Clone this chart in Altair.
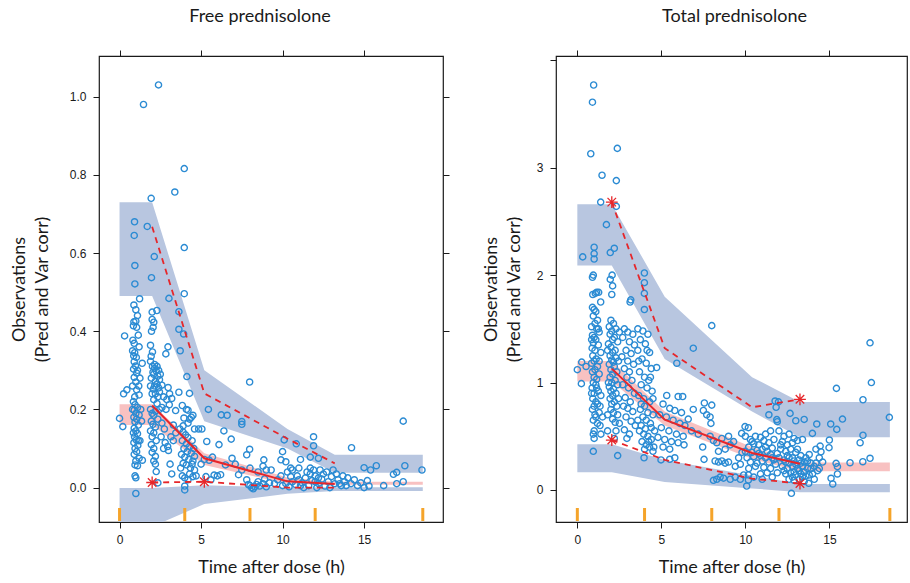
import altair as alt
import pandas as pd

# ---------------- data: Free prednisolone ----------------
free_obs = [
    (2.39,1.03),(1.47,0.98),(3.97,0.816),(3.39,0.756),(1.94,0.74),(0.92,0.68),(1.70,0.668),(0.90,0.645),
    (3.97,0.614),(2.13,0.591),(0.94,0.568),(1.96,0.537),(0.94,0.521),(3.97,0.496),(3.03,0.484),(1.23,0.483),
    (0.88,0.467),(1.0,0.455),(2.0,0.449),(2.29,0.453),(3.64,0.45),(0.88,0.424),(1.0,0.426),(0.85,0.414),
    (1.05,0.41),(2.0,0.43),(2.1,0.423),(1.96,0.40),(2.06,0.41),(3.64,0.405),(3.93,0.393),(0.31,0.388),
    (0.82,0.377),(0.9,0.369),(0.8,0.35),(0.93,0.345),(0.87,0.337),(1.03,0.333),(1.9,0.364),(2.02,0.347),
    (1.94,0.336),(2.97,0.36),(2.84,0.342),(3.72,0.35),(0.9,0.322),(0.98,0.311),(0.86,0.303),(1.05,0.293),
    (1.9,0.323),(2.02,0.31),(2.15,0.305),(2.25,0.298),(2.1,0.29),(2.35,0.285),(1.95,0.28),(2.2,0.272),
    (2.45,0.276),(1.39,0.318),(4.13,0.284),(0.9,0.282),(1.0,0.27),(1.18,0.26),(1.05,0.25),(1.2,0.237),
    (0.93,0.232),(1.9,0.26),(2.06,0.252),(2.2,0.24),(2.35,0.232),(2.1,0.225),(2.45,0.245),(2.6,0.262),
    (2.98,0.256),(3.07,0.24),(2.7,0.232),(2.9,0.225),(3.2,0.228),(0.25,0.24),(0.45,0.25),(3.64,0.244),
    (4.29,0.241),(3.85,0.21),(4.1,0.2),(4.2,0.198),(3.44,0.197),(2.85,0.2),(3.05,0.212),(2.6,0.205),
    (0.0,0.177),(0.2,0.156),(4.5,0.185),(4.3,0.175),(3.95,0.178),(4.2,0.165),(3.9,0.158),
    (0.85,0.22),(0.95,0.212),(1.1,0.205),(0.9,0.198),(1.0,0.19),(1.2,0.186),(0.88,0.18),(1.05,0.175),
    (0.95,0.168),(1.15,0.16),(0.9,0.152),(1.0,0.145),(1.1,0.138),(0.92,0.13),(1.02,0.122),(0.88,0.115),
    (1.12,0.108),(0.95,0.1),(1.05,0.092),(0.9,0.085),(1.2,0.075),(1.0,0.068),(0.95,0.058),(1.1,0.056),
    (0.95,0.03),(1.0,0.025),(1.0,-0.015),(1.3,0.2),(1.35,0.17),(1.25,0.12),(1.4,0.07),
    (1.1,0.44),(1.15,0.39),(1.2,0.36),(1.1,0.3),(1.25,0.28),(0.8,0.26),(0.8,0.2),(0.85,0.14),(1.15,0.12),
    (1.9,0.2),(2.0,0.19),(2.1,0.185),(1.95,0.17),(2.05,0.162),(2.2,0.155),(1.9,0.145),(2.1,0.14),
    (2.0,0.13),(2.25,0.12),(1.95,0.11),(2.1,0.1),(2.0,0.09),(2.2,0.08),(2.1,0.068),(2.2,0.06),
    (2.25,0.041),(2.35,0.012),(2.6,0.165),(2.75,0.15),(2.55,0.13),(2.8,0.115),(2.95,0.105),(2.7,0.1),
    (2.15,0.315),(2.3,0.31),(2.4,0.3),(2.05,0.295),(2.3,0.265),(2.15,0.26),(2.4,0.255),(2.5,0.29),
    (2.0,0.24),(2.3,0.215),(2.45,0.2),(2.2,0.195),(2.35,0.175),
    (3.0,0.095),(3.15,0.13),(3.3,0.16),(3.45,0.14),(3.3,0.12),(3.1,0.06),(3.2,0.035),
    (3.7,0.15),(3.9,0.142),(4.05,0.135),(4.2,0.128),(3.85,0.12),(4.1,0.112),(4.3,0.105),(3.95,0.1),
    (4.15,0.092),(4.4,0.088),(3.8,0.085),(4.0,0.078),(4.25,0.072),(4.5,0.068),(3.9,0.062),(4.1,0.058),
    (4.35,0.05),(4.6,0.045),(3.85,0.03),(4.0,0.025),(4.2,0.02),(4.5,0.028),(4.0,0.004),(4.0,-0.006),
    (4.45,0.12),(4.55,0.1),(4.6,0.08),(4.3,0.035),(3.75,0.05),(4.45,0.06),
    (4.7,0.03),(4.4,0.18),(4.6,0.15),(4.85,0.15),(5.05,0.15),(5.35,0.118),(5.2,0.072),(5.5,0.07),
    (5.7,0.078),(5.0,0.06),(5.3,0.028),(5.8,0.032),(5.6,0.02),(6.0,0.03),(6.2,0.033),
    (6.24,0.186),(6.85,0.124),(5.45,0.2),(6.4,0.145),(6.9,0.075),(6.5,0.058),(6.1,0.11),(6.6,0.185),
    (7.5,0.169),(7.5,0.162),(7.98,0.098),(7.8,0.084),(7.98,0.27),(8.85,0.071),(7.1,0.06),(7.5,0.045),
    (8.0,0.05),(7.3,0.033),(8.5,0.04),(9.0,0.045),(9.3,0.045),(8.8,0.055),
    (8.0,0.005),(8.1,0.0),(8.2,-0.003),(8.3,0.002),(8.4,0.008),(8.6,0.004),(8.8,0.01),(9.0,0.002),
    (9.2,0.012),(8.5,0.015),(8.9,0.022),(9.5,0.01),(9.7,0.02),(9.9,0.03),(7.8,0.02),(7.9,0.008),
    (10.1,0.122),(10.0,0.092),(9.9,0.071),(10.2,0.066),(10.84,0.112),(11.1,0.072),(11.9,0.13),(11.9,0.107),
    (11.7,0.078),(12.2,0.075),(11.7,0.05),(10.5,0.05),(11.0,0.05),(10.6,0.045),
    (10.0,0.005),(10.2,0.01),(10.4,0.002),(10.6,0.015),(10.8,0.008),(11.0,0.02),(11.2,0.012),(11.4,0.025),
    (11.6,0.005),(11.8,0.018),(12.0,0.03),(12.2,0.01),(12.4,0.022),(12.6,0.004),(12.8,0.015),(13.0,0.028),
    (13.2,0.01),(13.4,0.02),(13.6,0.005),(13.8,0.015),(14.0,0.025),(14.2,0.01),(14.4,0.02),(10.5,0.028),
    (10.9,0.03),(11.3,0.0),(11.7,0.035),(12.1,0.0),(12.5,0.035),(12.9,0.0),(13.3,0.035),(13.7,0.03),
    (12.7,0.04),(13.1,0.045),(11.5,0.04),(12.3,0.045),
    (10.3,0.04),(11.9,0.045),(12.2,0.025),(13.5,0.01),(12.0,0.015),(11.1,0.005),(13.9,0.005),
    (14.23,0.102),(15.0,0.051),(15.4,0.045),(15.75,0.056),(15.0,0.0),(15.3,0.004),(16.2,0.005),
    (16.8,0.034),(17.0,0.039),(17.5,0.056),(17.4,0.17),(17.4,0.015),(17.0,0.01),(18.55,0.045),
    (14.8,0.012),(15.2,0.018),(14.6,0.005),
]
free_band_t = [0.0, 2.0, 5.2, 10.3, 13.2, 18.6]
free_upper_lo = [0.49, 0.49, 0.17, 0.10, 0.038, 0.038]
free_upper_hi = [0.73, 0.73, 0.30, 0.15, 0.084, 0.084]
free_lower_lo = [-0.10, -0.10, -0.042, -0.016, -0.009, -0.009]
free_lower_hi = [-0.001, -0.001, 0.006, 0.0, 0.001, 0.001]
free_mid_lo = [0.16, 0.16, 0.058, 0.009, 0.007, 0.007]
free_mid_hi = [0.213, 0.213, 0.088, 0.026, 0.015, 0.015]
free_bin_t = [2.0, 5.2, 10.3, 13.2]
free_p50 = [0.21, 0.075, 0.016, 0.009]
free_p95 = [0.667, 0.241, 0.125, 0.062]
free_p05 = [0.013, 0.015, 0.0, 0.0]
free_stars = [(2.0, 0.013), (5.2, 0.015)]

# ---------------- data: Total prednisolone ----------------
total_obs = [
    (0.97,3.77),(0.9,3.61),(0.8,3.13),(2.38,3.18),(1.47,2.93),(2.32,2.88),(1.39,2.68),(2.32,2.64),
    (1.73,2.47),(1.0,2.26),(1.0,2.2),(1.0,2.15),(0.32,2.17),(2.2,2.25),(1.96,2.21),(2.07,2.0),
    (1.96,1.96),(2.1,1.9),(2.05,1.82),(3.99,2.02),(3.99,1.93),(3.99,1.83),(3.99,1.68),(0.95,2.0),
    (0.9,1.98),(0.92,1.82),(1.07,1.83),(1.27,1.84),(1.15,1.84),(1.39,1.75),(3.14,1.75),(3.18,1.77),
    (8.0,1.53),(6.9,1.32),(5.92,1.18),
    (0.9,1.70),(1.0,1.68),(1.1,1.66),(0.95,1.62),(1.2,1.58),(1.05,1.55),(0.85,1.52),(1.15,1.50),
    (1.3,1.47),(0.9,1.44),(1.0,1.42),(1.1,1.40),(0.95,1.37),(1.25,1.35),(0.88,1.32),(1.05,1.30),
    (1.4,1.28),(0.92,1.25),(1.12,1.22),(1.0,1.20),(0.85,1.18),(1.2,1.15),(1.05,1.12),(0.9,1.10),
    (1.3,1.08),(1.0,1.05),(1.15,1.03),(0.95,1.0),(1.1,0.98),(0.88,0.95),(1.25,0.92),(1.0,0.9),
    (1.4,0.88),(0.92,0.85),(1.1,0.82),(1.2,0.8),(1.0,0.78),(0.9,0.75),(1.3,0.72),(1.05,0.7),
    (1.5,0.68),(0.95,0.65),(1.2,0.62),(1.35,0.6),(1.0,0.55),(0.95,0.52),(1.4,0.52),(1.0,0.48),
    (0.95,0.36),(0.0,1.12),(0.26,1.19),(0.52,1.15),(0.24,0.99),
    (1.25,1.5),(0.85,1.4),(1.3,1.2),(1.15,0.95),(0.85,0.9),(1.35,0.78),(1.1,0.68),
    (2.0,1.58),(2.15,1.55),(1.9,1.52),(2.3,1.50),(2.05,1.48),(2.5,1.47),(1.95,1.45),(2.2,1.42),
    (2.1,1.40),(2.4,1.38),(1.85,1.36),(2.0,1.33),(2.25,1.30),(2.1,1.28),(1.95,1.25),(2.3,1.23),
    (2.05,1.21),(2.15,1.19),(1.9,1.17),(2.2,1.15),(2.0,1.12),(2.35,1.10),(2.1,1.08),(1.95,1.05),
    (2.25,1.02),(2.05,1.0),(2.4,0.98),(1.9,0.96),(2.15,0.94),(2.0,0.92),(2.3,0.9),(2.1,0.88),
    (1.95,0.85),(2.2,0.82),(2.05,0.8),(2.35,0.78),(2.0,0.75),(2.15,0.72),(2.4,0.7),(2.1,0.66),
    (2.25,0.63),(2.5,0.62),(1.8,0.55),(2.4,0.32),(2.2,0.48),
    (1.8,1.3),(2.45,1.2),(1.85,1.0),(2.45,0.85),(1.8,0.7),(2.3,0.55),
    (2.8,1.50),(3.0,1.47),(3.3,1.45),(2.7,1.42),(3.1,1.38),(3.4,1.35),(2.9,1.30),(3.2,1.27),
    (2.65,1.24),(3.0,1.2),(3.35,1.17),(2.8,1.13),(3.1,1.1),(2.95,1.05),(3.25,1.02),(2.7,0.98),
    (3.05,0.95),(3.4,0.9),(2.85,0.86),(3.15,0.82),(2.75,0.78),(3.0,0.76),(3.3,0.73),(2.9,0.68),
    (3.2,0.64),(3.45,0.6),(2.8,0.56),(3.1,0.52),(2.95,0.48),
    (3.6,1.50),(3.9,1.48),(4.2,1.45),(3.75,1.40),(4.05,1.36),(3.6,1.3),(4.3,1.28),(3.85,1.22),
    (4.1,1.18),(4.4,1.13),(3.7,1.1),(4.0,1.05),(4.25,1.02),(3.8,0.98),(4.15,0.95),(4.45,0.92),
    (3.65,0.88),(3.95,0.85),(4.3,0.82),(4.0,0.78),(3.75,0.75),(4.2,0.72),(4.5,0.7),(3.9,0.68),
    (4.1,0.65),(4.35,0.62),(3.8,0.6),(4.05,0.57),(4.6,0.55),(3.95,0.52),(4.2,0.5),(4.4,0.47),
    (3.85,0.45),(4.1,0.42),(4.3,0.4),(4.0,0.38),(3.97,0.30),(4.5,0.36),(4.72,1.14),
    (3.7,0.55),(4.4,0.58),(3.6,0.65),(4.25,0.45),(4.55,0.4),(3.8,0.8),(4.5,0.85),(4.35,1.05),
    (3.65,1.2),(4.15,1.3),
    (5.32,0.88),(6.0,0.87),(6.27,0.87),(5.1,0.8),(5.5,0.76),(5.8,0.74),(6.2,0.72),(4.9,0.7),
    (5.3,0.68),(5.7,0.65),(6.1,0.62),(6.4,0.6),(5.0,0.58),(5.45,0.55),(5.9,0.52),(6.3,0.5),
    (4.8,0.49),(5.2,0.47),(5.6,0.45),(6.0,0.44),(6.35,0.42),(5.1,0.4),(5.5,0.38),(4.98,0.28),
    (5.5,0.286),(5.8,0.30),(6.6,0.66),(6.9,0.75),(7.56,0.81),(8.0,0.79),(7.5,0.74),(7.7,0.7),
    (7.9,0.68),(7.95,0.62),
    (6.8,0.55),(7.2,0.52),(7.46,0.40),(7.54,0.285),(7.9,0.5),(8.1,0.46),(8.3,0.44),(8.6,0.48),
    (9.0,0.5),(9.3,0.45),(9.1,0.42),(8.8,0.38),(8.4,0.36),(8.2,0.27),(8.4,0.26),(8.6,0.27),
    (8.8,0.25),(9.0,0.26),(9.4,0.22),(9.7,0.24),(9.6,0.3),(9.8,0.35),
    (8.1,0.09),(8.3,0.1),(8.5,0.12),(8.7,0.11),(9.1,0.1),(9.4,0.12),(9.7,0.1),(9.9,0.14),
    (10.08,0.037),(10.18,0.093),(10.18,0.14),
    (9.98,0.59),(10.18,0.58),(9.78,0.527),(10.0,0.5),(10.3,0.47),(10.6,0.5),(10.9,0.49),(11.2,0.52),
    (11.5,0.55),(11.1,0.46),(10.5,0.43),(10.2,0.4),(10.8,0.42),(11.4,0.44),(11.7,0.47),(10.0,0.36),
    (10.4,0.35),(10.7,0.37),(11.0,0.38),(11.3,0.36),(11.6,0.39),(10.1,0.3),(10.5,0.31),(10.9,0.32),
    (11.2,0.3),(11.5,0.33),(10.3,0.26),(10.7,0.25),(11.0,0.27),(11.4,0.26),(11.7,0.28),(10.2,0.2),
    (10.6,0.22),(11.1,0.21),(11.5,0.2),(10.9,0.15),(11.3,0.16),(11.0,0.1),(11.6,0.12),(10.5,0.12),
    (10.4,0.45),(10.8,0.34),(11.2,0.4),(11.6,0.3),(11.9,0.34),(12.1,0.42),
    (11.77,0.828),(11.97,0.82),(11.83,0.77),(11.4,0.70),(11.87,0.655),(11.9,0.636),(12.66,0.713),
    (13.0,0.645),(13.5,0.657),(14.25,0.614),(13.99,0.527),
    (12.0,0.55),(12.3,0.5),(12.6,0.52),(12.9,0.48),(12.2,0.45),(12.5,0.42),(12.8,0.44),(13.1,0.46),
    (13.4,0.47),(12.1,0.38),(12.4,0.36),(12.7,0.38),(13.0,0.35),(13.3,0.32),(12.0,0.3),(12.3,0.28),
    (12.6,0.3),(12.9,0.27),(13.2,0.28),(13.5,0.26),(12.2,0.22),(12.5,0.2),(12.8,0.22),(13.1,0.2),
    (13.4,0.22),(13.7,0.2),(12.4,0.15),(12.7,0.16),(13.0,0.14),(13.3,0.15),(13.6,0.13),(12.6,0.1),
    (12.9,0.09),(13.2,0.1),(13.5,0.08),(12.74,-0.031),(13.77,0.062),(13.9,0.25),(14.1,0.22),
    (14.3,0.18),(14.0,0.15),(14.4,0.3),(14.6,0.26),(13.8,0.33),(14.2,0.38),(14.45,0.409),(14.5,0.356),
    (15.0,0.465),(14.98,0.394),
    (12.5,0.32),(12.8,0.3),(13.1,0.38),(13.3,0.25),(13.6,0.3),(13.0,0.24),(12.6,0.25),(12.3,0.18),
    (12.9,0.17),(13.2,0.18),(13.5,0.17),(13.8,0.14),(14.1,0.1),(13.4,0.12),(12.8,0.12),(11.8,0.24),
    (11.9,0.16),(12.4,0.26),(13.7,0.27),(14.2,0.25),(14.4,0.2),(13.9,0.2),
    (15.08,0.614),(15.44,0.564),(15.78,0.66),(16.83,0.44),(17.0,0.51),(16.23,0.254),(16.99,0.263),
    (17.42,0.295),(15.4,0.248),(15.48,0.217),(15.48,0.149),(15.1,0.109),(15.2,0.056),(17.42,1.37),
    (17.5,1.0),(15.42,0.946),(17.0,0.84),(18.57,0.676),
]
total_band_t = [0.0, 2.05, 5.2, 10.4, 13.25, 18.6]
total_upper_lo = [2.09, 2.09, 1.22, 0.73, 0.49, 0.49]
total_upper_hi = [2.66, 2.66, 1.80, 1.05, 0.82, 0.82]
total_lower_lo = [0.165, 0.165, 0.075, 0.015, -0.02, -0.02]
total_lower_hi = [0.425, 0.425, 0.28, 0.135, 0.056, 0.056]
total_mid_lo = [1.01, 1.01, 0.60, 0.29, 0.175, 0.175]
total_mid_hi = [1.20, 1.20, 0.73, 0.40, 0.255, 0.255]
total_bin_t = [2.05, 5.2, 10.4, 13.25]
total_p50 = [1.13, 0.655, 0.345, 0.245]
total_p95 = [2.68, 1.32, 0.77, 0.844]
total_p05 = [0.465, 0.28, 0.105, 0.06]
total_stars = [(2.05, 2.68), (2.05, 0.465), (13.25, 0.844), (13.25, 0.06)]

bin_edges = [0, 4, 8, 12, 18.6]

BLUE_BAND = "#B8C6E0"
PINK_BAND = "#F8C1C1"
RED = "#E6262A"
PT = "#2B8BD3"
ORANGE = "#F5A42A"
TXT = "#1a1a1a"
STAR = "M-1,0L1,0M0,-1L0,1M-0.72,-0.72L0.72,0.72M-0.72,0.72L0.72,-0.72"


def panel(title, obs, band_t, ulo, uhi, llo, lhi, mlo, mhi, bin_t, p50, p95, p05, stars,
          xdom, ydom, yvals, yfmt, yexpr, width, title_dx, ytitle_pad, right_axis):
    xs = alt.Scale(domain=xdom, nice=False, zero=False)
    ys = alt.Scale(domain=ydom, nice=False, zero=False)
    rows = []
    for i, t in enumerate(band_t):
        rows.append({"t": t, "lo": ulo[i], "hi": uhi[i], "band": "upper"})
        rows.append({"t": t, "lo": llo[i], "hi": lhi[i], "band": "lower"})
    bdf = pd.DataFrame(rows)
    mdf = pd.DataFrame({"t": band_t, "lo": mlo, "hi": mhi})
    odf = pd.DataFrame(obs, columns=["t", "v"])
    ldf = pd.DataFrame({"t": bin_t, "p50": p50, "p95": p95, "p05": p05})
    sdf = pd.DataFrame(stars, columns=["t", "v"])
    rdf = pd.DataFrame({"t": bin_edges})

    ax_bottom = alt.Axis(values=[0, 5, 10, 15], title="Time after dose (h)", grid=False, domain=False,
                         tickSize=6, tickColor=TXT, tickWidth=1, labelFont="Liberation Sans",
                         labelFontSize=12, labelColor=TXT, labelPadding=6, titleFont="Lato",
                         titleFontSize=18, titleFontWeight="normal", titleColor=TXT, titlePadding=13)
    ax_left = alt.Axis(values=yvals, format=yfmt, labelExpr=yexpr, title=["Observations", "(Pred and Var corr)"],
                       grid=False, domain=False, tickSize=6, tickColor=TXT, tickWidth=1,
                       labelFont="Liberation Sans", labelFontSize=12, labelColor=TXT, labelPadding=7,
                       titleFont="Lato", titleFontSize=18, titleFontWeight="normal", titleColor=TXT,
                       titlePadding=ytitle_pad, titleLineHeight=23)
    ax_top = alt.Axis(values=[0, 5, 10, 15], orient="top", labels=False, title=None, grid=False,
                      domain=False, tickSize=6, tickColor=TXT, tickWidth=1)
    ax_right = alt.Axis(values=yvals, orient="right", labels=False, title=None, grid=False,
                        domain=False, tickSize=6, tickColor=TXT, tickWidth=1) if right_axis else None

    blue = alt.Chart(bdf).mark_area(color=BLUE_BAND, opacity=1, clip=True).encode(
        x=alt.X("t:Q", scale=xs, axis=ax_bottom),
        y=alt.Y("lo:Q", scale=ys, axis=ax_left),
        y2="hi:Q",
        detail="band:N",
    )
    pink = alt.Chart(mdf).mark_area(color=PINK_BAND, opacity=1, clip=True).encode(
        x=alt.X("t:Q", scale=xs, axis=None),
        y=alt.Y("lo:Q", scale=ys, axis=None),
        y2="hi:Q",
    )
    pts = alt.Chart(odf).mark_point(shape="circle", filled=False, color=PT, size=38,
                                    strokeWidth=1.4, opacity=1, clip=True).encode(
        x=alt.X("t:Q", scale=xs, axis=ax_top),
        y=alt.Y("v:Q", scale=ys, axis=ax_right),
    )
    med = alt.Chart(ldf).mark_line(color=RED, strokeWidth=2).encode(
        x=alt.X("t:Q", scale=xs, axis=None), y=alt.Y("p50:Q", scale=ys, axis=None))
    hi_line = alt.Chart(ldf).mark_line(color=RED, strokeWidth=1.8, strokeDash=[6, 5]).encode(
        x=alt.X("t:Q", scale=xs, axis=None), y=alt.Y("p95:Q", scale=ys, axis=None))
    lo_line = alt.Chart(ldf).mark_line(color=RED, strokeWidth=1.8, strokeDash=[6, 5]).encode(
        x=alt.X("t:Q", scale=xs, axis=None), y=alt.Y("p05:Q", scale=ys, axis=None))
    star = alt.Chart(sdf).mark_point(shape=STAR, filled=False, color=RED, size=140,
                                     strokeWidth=1.3, opacity=1).encode(
        x=alt.X("t:Q", scale=xs, axis=None), y=alt.Y("v:Q", scale=ys, axis=None))
    rug = alt.Chart(rdf).mark_rule(color=ORANGE, strokeWidth=3).encode(
        x=alt.X("t:Q", scale=xs, axis=None), y=alt.value(452), y2=alt.value(465))

    return alt.layer(blue, pink, pts, med, hi_line, lo_line, star, rug).resolve_axis(
        x="independent", y="independent"
    ).properties(
        width=width, height=466,
        title=alt.TitleParams(title, font="Lato", fontSize=18, fontWeight="normal", color=TXT,
                              anchor="middle", offset=24, dx=title_dx),
    )


left = panel("Free prednisolone", free_obs, free_band_t, free_upper_lo, free_upper_hi,
             free_lower_lo, free_lower_hi, free_mid_lo, free_mid_hi, free_bin_t,
             free_p50, free_p95, free_p05, free_stars,
             [-1.26, 19.84], [-0.088, 1.104], [0, 0.2, 0.4, 0.6, 0.8, 1.0], ".1f",
             "datum.label", 344, -11, 18, True)
right = panel("Total prednisolone", total_obs, total_band_t, total_upper_lo, total_upper_hi,
              total_lower_lo, total_lower_hi, total_mid_lo, total_mid_hi, total_bin_t,
              total_p50, total_p95, total_p05, total_stars,
              [-1.27, 19.62], [-0.298, 4.04], [0, 1, 2, 3, 4], "d",
              "datum.value == 4 ? '' : datum.label", 351, 3, 13, False)

chart = alt.hconcat(left, right, spacing=113, bounds="flush").properties(
    autosize=alt.AutoSizeParams(type="none"),
    padding={"left": 99, "top": 56, "right": 811, "bottom": 527},
    background="white",
).configure_view(stroke=TXT, strokeWidth=1.2)

chart.save("out.html", embed_options={"renderer": "svg", "actions": False})
